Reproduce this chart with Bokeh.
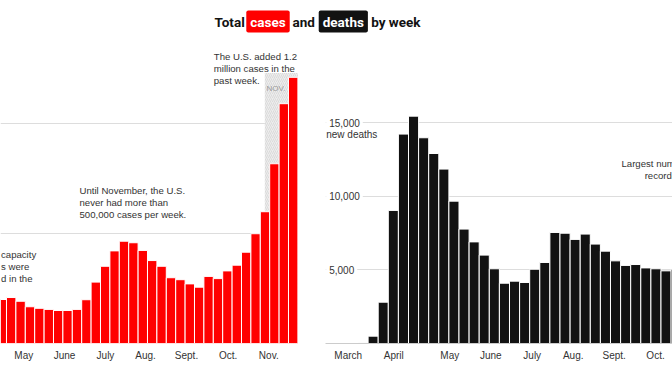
from bokeh.plotting import figure
from bokeh.models import Range1d, LinearAxis, FixedTicker, Grid, Label, Spacer
from bokeh.layouts import column, row
from bokeh.core.properties import value
from bokeh.embed import file_html
from bokeh.resources import INLINE

# ---------------- data ----------------
case_weeks = list(range(32))
cases = [200000, 209000, 192000, 167000, 160000, 155000, 150000, 150000,
         155000, 199000, 279000, 351000, 421000, 465000, 458000, 423000,
         377000, 351000, 299000, 290000, 271000, 256000, 305000, 295000,
         330000, 356000, 415000, 499000, 599000, 817000, 1090000, 1210000]
case_month_ticks = [2.34, 6.67, 11.03, 15.29, 19.65, 24.08, 28.4]
case_month_labels = ["May", "June", "July", "Aug.", "Sept.", "Oct.", "Nov."]
case_grid = [500000, 1000000]
nov_start = 27.98
nov_band_top = 1230000

death_weeks = list(range(32))
deaths = [70, 500, 2810, 9050, 14240, 15460, 13990, 12920,
          11860, 9680, 7780, 6910, 6010, 5080, 4100, 4240,
          4150, 5050, 5510, 7550, 7500, 7080, 7440, 6760,
          6280, 5620, 5310, 5370, 5140, 5080, 4940, 5050]
death_month_ticks = [-1.47, 3.04, 8.59, 12.65, 16.75, 20.81, 24.87, 28.96]
death_month_labels = ["March", "April", "May", "June", "July", "Aug.", "Sept.", "Oct."]
death_grid = [5000, 10000, 15000]
death_grid_labels = ["5,000", "10,000", "15,000"]

# ---------------- style ----------------
FONT = "Liberation Sans"
FONT_T = "Roboto"
RED = "#ff0000"
BLACK = "#121212"
TXT = "#333333"
GRID = "#dddddd"


def base_fig(w, h, xr, yr):
    p = figure(width=w, height=h, x_range=xr, y_range=yr,
               output_backend="svg", toolbar_location=None,
               x_axis_type=None, y_axis_type=None,
               min_border=0, min_border_bottom=29,
               outline_line_color=None, background_fill_color="white",
               border_fill_color="white")
    return p


def month_axis(ticks, labels, line_color=None):
    ax = LinearAxis(ticker=FixedTicker(ticks=ticks),
                    major_label_overrides={t: l for t, l in zip(ticks, labels)},
                    axis_line_color=line_color, axis_line_width=1,
                    major_tick_line_color=None, minor_tick_line_color=None,
                    major_tick_out=0, major_tick_in=0,
                    major_label_text_font=FONT, major_label_text_font_size="10px",
                    major_label_text_color=TXT, major_label_standoff=6)
    return ax


# ---------------- left panel: cases ----------------
left = base_fig(298, 334, Range1d(-0.1383, 31.564), Range1d(0, 1386364))
left.add_layout(Grid(dimension=1, ticker=FixedTicker(ticks=case_grid),
                     grid_line_color=GRID, grid_line_width=1))
left.quad(left=[nov_start], right=[case_weeks[-1] + 0.5], bottom=[0], top=[nov_band_top],
          fill_color="#ededed", hatch_pattern="/", hatch_color="#d2d2d2",
          hatch_scale=4, hatch_weight=0.7, line_color=None)
left.vbar(x=case_weeks, top=cases, bottom=0, width=1,
          fill_color=RED, line_color="white", line_width=1)
left.add_layout(month_axis(case_month_ticks, case_month_labels), "below")

left.text(x=[nov_start + 1.19], y=[1158000], text=["NOV."],
          text_font=value(FONT), text_font_size="8px", text_color="#999999",
          text_align="center", text_baseline="middle")
left.text(x=[22.55], y=[1249500],
          text=["The U.S. added 1.2\nmillion cases in the\npast week."],
          text_font=value(FONT), text_font_size="9.6px", text_color=TXT,
          text_align="left", text_baseline="middle", text_line_height=1.07)
left.text(x=[8.27], y=[641000],
          text=["Until November, the U.S.\nnever had more than\n500,000 cases per week."],
          text_font=value(FONT), text_font_size="9.6px", text_color=TXT,
          text_align="left", text_baseline="middle", text_line_height=1.07)
left.text(x=[-0.085], y=[351000],
          text=["capacity\ns were\nd in the"],
          text_font=value(FONT), text_font_size="9.6px", text_color=TXT,
          text_align="left", text_baseline="middle", text_line_height=1.07)

# ---------------- right panel: deaths ----------------
rx0 = -3.718
right = base_fig(347, 334, Range1d(rx0, 30.639), Range1d(0, 20740))
right.add_layout(Grid(dimension=1, ticker=FixedTicker(ticks=death_grid),
                      grid_line_color=GRID, grid_line_width=1))
right.vbar(x=death_weeks, top=deaths, bottom=0, width=1,
           fill_color=BLACK, line_color="white", line_width=1)
right.add_layout(month_axis(death_month_ticks, death_month_labels, "#cccccc"), "below")

right.text(x=[rx0 + 0.07] * len(death_grid), y=death_grid, text=death_grid_labels,
           text_font=value(FONT), text_font_size="10px", text_color=TXT,
           text_align="left", text_baseline="middle",
           background_fill_color="white", padding=3)
right.text(x=[rx0 + 0.07], y=[14218], text=["new deaths"],
           text_font=value(FONT), text_font_size="10px", text_color=TXT,
           text_align="left", text_baseline="middle")
right.text(x=[31.0], y=[11844], text=["Largest number of deaths\nrecorded since"],
           text_font=value(FONT), text_font_size="9.6px", text_color=TXT,
           text_align="center", text_baseline="middle", text_line_height=1.07)

# ---------------- title ----------------
title = figure(width=672, height=38, x_range=Range1d(0, 672), y_range=Range1d(0, 38),
               output_backend="svg", toolbar_location=None,
               x_axis_type=None, y_axis_type=None, min_border=0,
               outline_line_color=None)
common = dict(y=17, text_font=FONT_T, text_font_style="bold", text_font_size="13.5px",
              text_baseline="middle")
title.add_layout(Label(x=214, text="Total", text_align="left", text_color=BLACK, **common))
title.add_layout(Label(x=267.5, text="cases", text_align="center", text_color="white",
                       background_fill_color=RED, border_radius=2, padding=(4, 3), **common))
title.add_layout(Label(x=292, text="and", text_align="left", text_color=BLACK, **common))
title.add_layout(Label(x=342.8, text="deaths", text_align="center", text_color="white",
                       background_fill_color=BLACK, border_radius=2, padding=(4, 3), **common))
title.add_layout(Label(x=370.7, text="by week", text_align="left", text_color=BLACK, **common))

layout = column(title, row(left, Spacer(width=27, height=334), right), spacing=0)

open("out.html", "w").write(file_html(layout, INLINE))
